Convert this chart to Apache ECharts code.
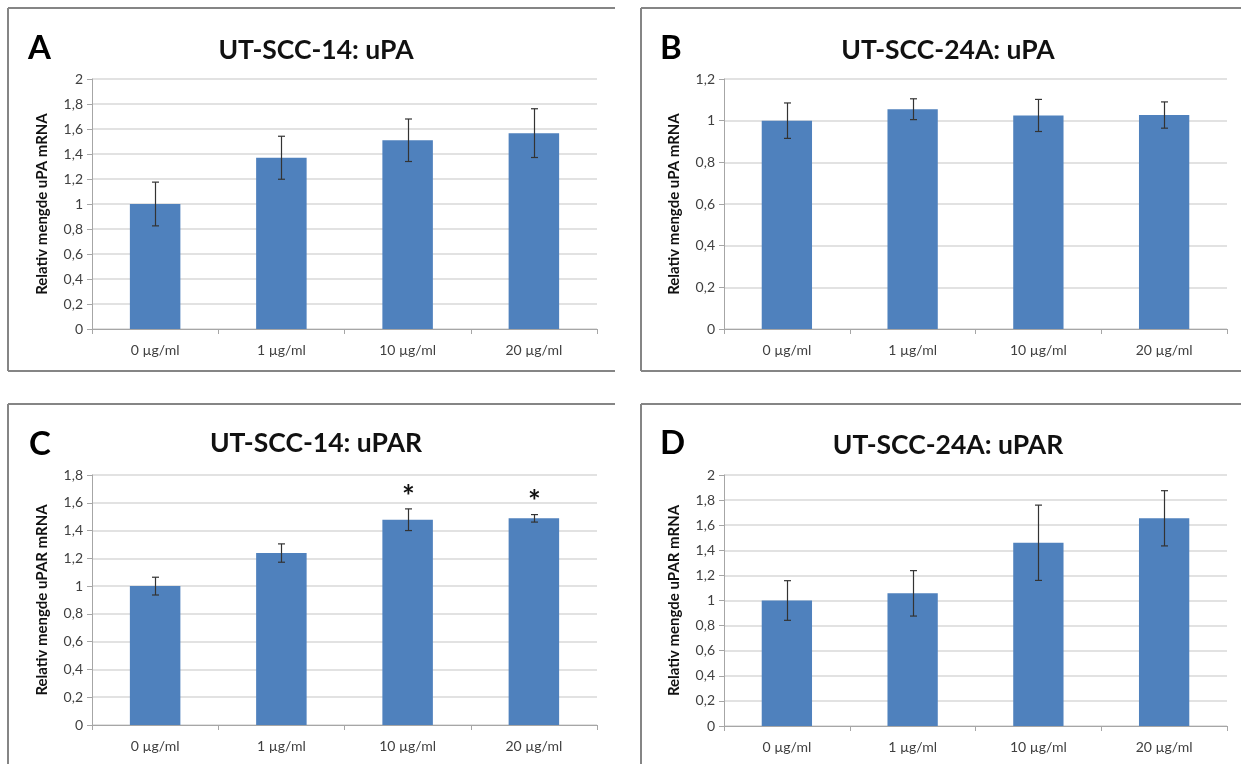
<!DOCTYPE html>
<html>
<head>
<meta charset="utf-8">
<script src="https://cdn.jsdelivr.net/npm/echarts@6/dist/echarts.min.js"></script>
<style>html,body{margin:0;padding:0;background:#fff}#c{width:1241px;height:764px}</style>
</head>
<body>
<div id="c"></div>
<script>
// ---- data ----
var categories = ['0 µg/ml', '1 µg/ml', '10 µg/ml', '20 µg/ml'];

var titleA = 'UT-SCC-14: uPA';
var titleB = 'UT-SCC-24A: uPA';
var titleC = 'UT-SCC-14: uPAR';
var titleD = 'UT-SCC-24A: uPAR';

var yNameA = 'Relativ mengde uPA mRNA';
var yNameB = 'Relativ mengde uPA mRNA';
var yNameC = 'Relativ mengde uPAR mRNA';
var yNameD = 'Relativ mengde uPAR mRNA';

var valuesA = [1.00, 1.37, 1.51, 1.567];
var errorsA = [0.175, 0.172, 0.17, 0.195];
var valuesB = [1.00, 1.055, 1.025, 1.027];
var errorsB = [0.085, 0.05, 0.077, 0.063];
var valuesC = [1.00, 1.238, 1.478, 1.488];
var errorsC = [0.064, 0.066, 0.078, 0.027];
var valuesD = [1.00, 1.057, 1.46, 1.655];
var errorsD = [0.158, 0.181, 0.30, 0.22];

var sigC = ['', '', '*', '*'];

var yMaxA = 2, yMaxB = 1.2, yMaxC = 1.8, yMaxD = 2;
var yStep = 0.2;

// ---- styles ----
var FONT = 'Lato, "Open Sans", sans-serif';
var BAR = '#4f81bd';
var GRIDC = '#d9d9d9';
var AXC = '#a6a6a6';
var LABC = '#404040';

var panels = [
  {title: titleA, yName: yNameA, vals: valuesA, errs: errorsA, max: yMaxA, sig: null,
   grid: {left: 92, top: 79, width: 505, height: 250}, letter: 'A', lx: 28, ly: 48, tx: 311, ty: 45,
   box: {x: 8, y: 8, r: 615, b: 371}},
  {title: titleB, yName: yNameB, vals: valuesB, errs: errorsB, max: yMaxB, sig: null,
   grid: {left: 724, top: 79, width: 503, height: 250}, letter: 'B', lx: 660, ly: 48, tx: 943, ty: 45,
   box: {x: 641, y: 8, r: 1241, b: 371}},
  {title: titleC, yName: yNameC, vals: valuesC, errs: errorsC, max: yMaxC, sig: sigC,
   grid: {left: 92, top: 475, width: 505, height: 250}, letter: 'C', lx: 29, ly: 444, tx: 311, ty: 438,
   box: {x: 8, y: 404, r: 615, b: 800}},
  {title: titleD, yName: yNameD, vals: valuesD, errs: errorsD, max: yMaxD, sig: null,
   grid: {left: 724, top: 475, width: 503, height: 251}, letter: 'D', lx: 660, ly: 443, tx: 943, ty: 440,
   box: {x: 641, y: 404, r: 1241, b: 800}}
];

var option = {
  backgroundColor: '#fff',
  animation: false,
  title: [], grid: [], xAxis: [], yAxis: [], series: [], graphic: []
};

panels.forEach(function (p, i) {
  option.grid.push(p.grid);
  option.title.push({
    text: p.title, left: p.tx, top: p.ty, textAlign: 'center', textVerticalAlign: 'middle',
    textStyle: {fontFamily: FONT, fontWeight: 'bold', fontSize: 26.5, color: '#111'}
  });
  option.xAxis.push({
    type: 'category', gridIndex: i, data: categories,
    axisLine: {lineStyle: {color: AXC, width: 1}},
    axisTick: {show: true, length: 5, lineStyle: {color: AXC}},
    axisLabel: {fontFamily: FONT, fontSize: 14, color: LABC, margin: 14}
  });
  option.yAxis.push({
    type: 'value', gridIndex: i, min: 0, max: p.max, interval: yStep,
    name: p.yName, nameLocation: 'middle', nameGap: 42,
    nameTextStyle: {fontFamily: FONT, fontWeight: 'bold', fontSize: 15, color: '#111'},
    axisLine: {show: true, lineStyle: {color: AXC, width: 1}},
    axisTick: {show: true, length: 5, lineStyle: {color: AXC}},
    axisLabel: {fontFamily: FONT, fontSize: 14, color: LABC, margin: 9,
      formatter: function (v) { return String(Math.round(v * 10) / 10).replace('.', ','); }},
    splitLine: {show: true, lineStyle: {color: GRIDC, width: 1.5}}
  });
  option.series.push({
    type: 'bar', xAxisIndex: i, yAxisIndex: i, data: p.vals, barWidth: '40%',
    itemStyle: {color: BAR}, z: 2
  });
  var errData = p.vals.map(function (v, k) { return [k, v - p.errs[k], v + p.errs[k], p.sig ? p.sig[k] : '']; });
  option.series.push({
    type: 'custom', xAxisIndex: i, yAxisIndex: i, data: errData, z: 5,
    renderItem: function (params, api) {
      var k = api.value(0);
      var lo = api.coord([k, api.value(1)]);
      var hi = api.coord([k, api.value(2)]);
      var x = Math.round(lo[0]) + 0.5;
      var w = 3.5;
      var st = {stroke: '#333', lineWidth: 1.2};
      var ch = [
        {type: 'line', shape: {x1: x, y1: lo[1], x2: x, y2: hi[1]}, style: st},
        {type: 'line', shape: {x1: x - w, y1: lo[1], x2: x + w, y2: lo[1]}, style: st},
        {type: 'line', shape: {x1: x - w, y1: hi[1], x2: x + w, y2: hi[1]}, style: st}
      ];
      var s = errData[params.dataIndex][3];
      if (s) {
        ch.push({type: 'text', x: x, y: hi[1] - 12,
          style: {text: s, fontFamily: FONT, fontWeight: 'bold', fontSize: 30, fill: '#111',
            align: 'center', verticalAlign: 'middle'}});
      }
      return {type: 'group', children: ch};
    }
  });
  var b = p.box;
  var bs = {stroke: '#858585', lineWidth: 2};
  option.graphic.push(
    {type: 'line', shape: {x1: b.x, y1: b.y, x2: b.r, y2: b.y}, style: bs, z: 10},
    {type: 'line', shape: {x1: b.x, y1: b.y, x2: b.x, y2: b.b}, style: bs, z: 10},
    {type: 'line', shape: {x1: b.x, y1: b.b, x2: b.r, y2: b.b}, style: bs, z: 10},
    {type: 'text', left: p.lx, top: p.ly - 16,
      style: {text: p.letter, fontFamily: FONT, fontWeight: 'bold', fontSize: 33, fill: '#000'}, z: 10}
  );
});

var chart = echarts.init(document.getElementById('c'), null, {renderer: 'canvas'});
chart.setOption(option);
</script>
</body>
</html>
